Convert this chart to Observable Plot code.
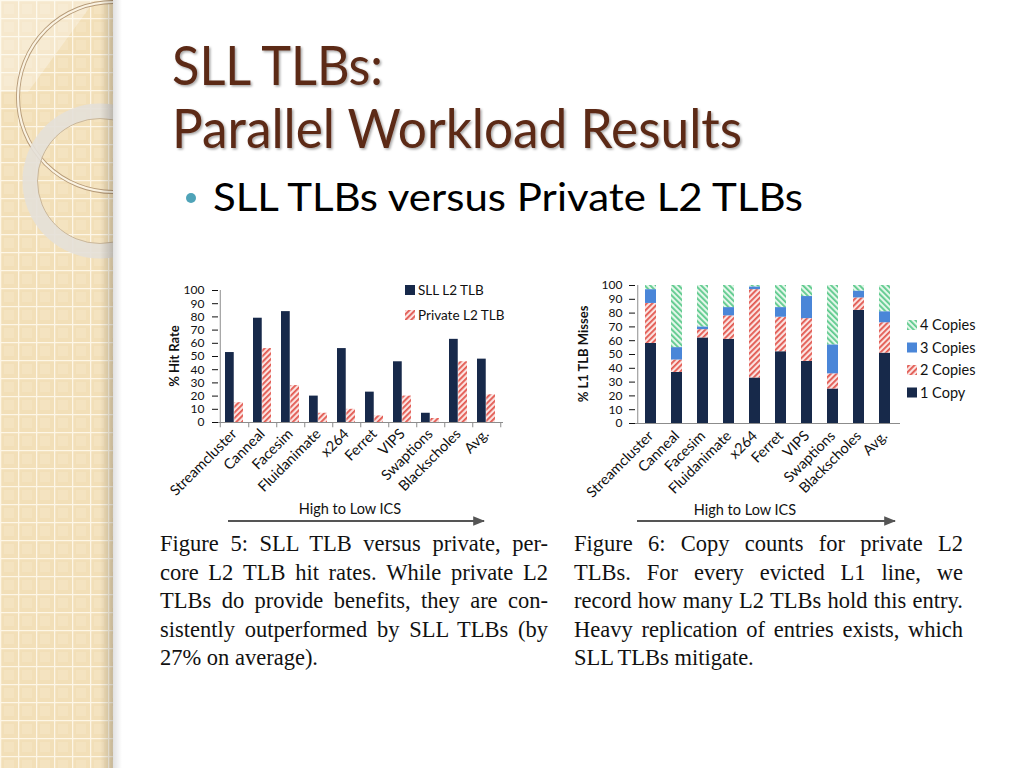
<!DOCTYPE html>
<html><head><meta charset="utf-8">
<script src="https://cdn.jsdelivr.net/npm/d3@7"></script>
<script src="https://cdn.jsdelivr.net/npm/@observablehq/plot@0.6"></script>
<style>
html,body{margin:0;padding:0}
body{width:1024px;height:768px;position:relative;overflow:hidden;background:#fff;font-family:Lato,"Open Sans",sans-serif}
.abs{position:absolute;left:0;top:0}
#c1{position:absolute;left:150px;top:275px}
#c2{position:absolute;left:560px;top:270px}
#c1 g[aria-label^="x-axis"] text, #c2 g[aria-label^="x-axis"] text{font-size:14.5px}
#c1 g[aria-label^="y-axis"] text, #c2 g[aria-label^="y-axis"] text{font-size:12px}
</style></head><body>
<svg class="abs" width="0" height="0" style="position:absolute">
  <defs>
    <pattern id="hatchRed" width="4" height="4" patternUnits="userSpaceOnUse" patternTransform="rotate(45)">
      <rect width="4" height="4" fill="#fbe3e1"/>
      <rect width="1.8" height="4" fill="#e2574f"/>
    </pattern>
    <pattern id="hatchGreen" width="4" height="4" patternUnits="userSpaceOnUse" patternTransform="rotate(-45)">
      <rect width="4" height="4" fill="#e4f7ea"/>
      <rect width="1.8" height="4" fill="#5cc98c"/>
    </pattern>
  </defs>
</svg>

<!-- decorative side strip -->
<svg class="abs" width="124" height="768">
  <defs>
    <pattern id="grid" width="18" height="18" patternUnits="userSpaceOnUse">
      <rect width="18" height="18" fill="#f2dfb8"/>
      <rect x="4" y="4" width="10" height="10" fill="#f4e3c0"/>
      <path d="M0 0.5H18M0.5 0V18" stroke="#fdf6e6" stroke-width="1.6"/>
    </pattern>
    <linearGradient id="edge" x1="0" x2="1">
      <stop offset="0" stop-color="#000" stop-opacity="0"/>
      <stop offset="1" stop-color="#000" stop-opacity="0.18"/>
    </linearGradient>
    <linearGradient id="edge2" x1="0" x2="1">
      <stop offset="0" stop-color="#000" stop-opacity="0.12"/>
      <stop offset="1" stop-color="#000" stop-opacity="0"/>
    </linearGradient>
    <clipPath id="stripClip"><rect width="113" height="768"/></clipPath>
  </defs>
  <rect width="113" height="768" fill="url(#grid)"/>
  <g clip-path="url(#stripClip)">
    <path d="M0 0H95L28 92H0Z" fill="#fff" opacity="0.3"/>
    <circle cx="113" cy="97" r="95" fill="none" stroke="#b59a78" stroke-width="4"/>
    <circle cx="113" cy="97" r="95" fill="none" stroke="#fbf3e2" stroke-width="2.2"/>
    <circle cx="100" cy="181" r="70" fill="none" stroke="#e4e0d8" stroke-width="15" opacity="0.9"/>
    <circle cx="100" cy="181" r="62.5" fill="none" stroke="#c9b79c" stroke-width="1"/>
  </g>
  <rect x="100" width="13" height="768" fill="url(#edge)"/>
  <rect x="113" width="9" height="768" fill="url(#edge2)"/>
</svg>

<!-- slide texts -->
<svg class="abs" width="1024" height="768" id="overlay" style="font-family:Lato,sans-serif">
  <defs>
    <filter id="tshadow" x="-5%" y="-20%" width="110%" height="140%">
      <feDropShadow dx="1.5" dy="1.5" stdDeviation="1.2" flood-color="#000" flood-opacity="0.35"/>
    </filter>
    <marker id="arrow" viewBox="0 0 10 10" refX="9" refY="5" markerWidth="6" markerHeight="6" orient="auto">
      <path d="M0 1L10 5L0 9Z" fill="#555"/>
    </marker>
  </defs>
  <g fill="#5b2a18" font-size="54" filter="url(#tshadow)">
    <text x="172" y="85" textLength="211" lengthAdjust="spacingAndGlyphs">SLL TLBs:</text>
    <text x="172" y="148" textLength="570" lengthAdjust="spacingAndGlyphs">Parallel Workload Results</text>
  </g>
  <circle cx="191" cy="198" r="5" fill="#4fa3b8"/>
  <text x="213" y="211" font-size="38" fill="#000" textLength="590" lengthAdjust="spacingAndGlyphs">SLL TLBs versus Private L2 TLBs</text>

  <!-- axis direction notes -->
  <text x="350" y="514" font-size="14.5" text-anchor="middle" fill="#111">High to Low ICS</text>
  <line x1="228" y1="521" x2="484" y2="521" stroke="#555" stroke-width="2" marker-end="url(#arrow)"/>
  <text x="745" y="515" font-size="14.5" text-anchor="middle" fill="#111">High to Low ICS</text>
  <line x1="637" y1="521" x2="895" y2="521" stroke="#555" stroke-width="2" marker-end="url(#arrow)"/>

  <!-- legends -->
  <g font-size="13.5" fill="#111">
    <rect x="405" y="285" width="10" height="10" fill="#17294a"/>
    <text x="418" y="295">SLL L2 TLB</text>
    <rect x="405" y="310" width="10" height="10" fill="url(#hatchRed)"/>
    <text x="418" y="320">Private L2 TLB</text>
  </g>
  <g font-size="14.5" fill="#111" id="leg2"></g>

  <!-- captions -->
  <g font-family="'Liberation Serif','Times New Roman',serif" font-size="22.5" fill="#111" id="caps"></g>
</svg>

<div id="c1"></div>
<div id="c2"></div>

<script>
// ---------- data ----------
const categories = ["Streamcluster","Canneal","Facesim","Fluidanimate","x264","Ferret","VIPS","Swaptions","Blackscholes","Avg."];
const hitSeries = ["SLL L2 TLB","Private L2 TLB"];
const sllHit     = [53,79,84,20,56,23,46,7,63,48];
const privateHit = [15,56,28,7,10,5,20,3,46,21];

const copySeries = ["1 Copy","2 Copies","3 Copies","4 Copies"];
const copy1 = [58,37,62,61,33,52,45,25,82,51];
const copy2 = [29,9,6,17,64,25,31,11,9,22];
const copy3 = [10,9,2,6,2,7,16,21,5,8];
const copy4 = [3,45,30,16,1,16,8,43,4,19];

const yTicks = [0,10,20,30,40,50,60,70,80,90,100];

const caption5 = ["Figure 5: SLL TLB versus private, per-","core L2 TLB hit rates. While private L2","TLBs do provide benefits, they are con-","sistently outperformed by SLL TLBs (by","27% on average)."];
const caption6 = ["Figure 6: Copy counts for private L2","TLBs. For every evicted L1 line, we","record how many L2 TLBs hold this entry.","Heavy replication of entries exists, which","SLL TLBs mitigate."];

// ---------- styles ----------
const navy = "#17294a";
const blue = "#4a86d8";
const axisGray = "#8c8c8c";

// ---------- chart 1 ----------
const hitRows = categories.flatMap((c,i)=>[
  {cat:c, series:hitSeries[0], v:sllHit[i]},
  {cat:c, series:hitSeries[1], v:privateHit[i]}
]);
const w1 = 380, ml1 = 68, mr1 = 27;
const pad1 = 0.35;
const step1 = (w1-ml1-mr1)/categories.length;
const bw1 = step1*(1-pad1);

const chart1 = Plot.plot({
  width: w1, height: 235, marginTop: 15, marginLeft: ml1, marginRight: mr1, marginBottom: 88,
  style: {fontFamily:"Lato, sans-serif", fontSize:"13px", color:"#111", background:"transparent", overflow:"visible"},
  x: {domain: categories, paddingInner: pad1, paddingOuter: pad1/2, label: null, tickRotate: -45, tickSize: 0, tickPadding: 9},
  y: {domain: [0,100], ticks: yTicks, label: null, tickSize: 6, tickPadding: 8},
  marks: [
    Plot.barY(hitRows.filter(d=>d.series===hitSeries[0]), {x:"cat", y:"v", fill: navy, insetRight: bw1/2}),
    Plot.barY(hitRows.filter(d=>d.series===hitSeries[1]), {x:"cat", y:"v", fill: "url(#hatchRed)", insetLeft: bw1/2}),
    Plot.ruleX(categories, {x: d=>d, dx: step1/2, y1: 0, y2: -4, stroke: axisGray}),
    Plot.ruleX([categories[0]], {x: d=>d, dx: -step1/2, y1: -4, y2: 100, stroke: axisGray}),
    Plot.ruleY([0], {stroke: axisGray})
  ]
});
document.getElementById("c1").append(chart1);

// ---------- chart 2 ----------
const copyVals = [copy1,copy2,copy3,copy4];
const copyRows = copySeries.flatMap((s,j)=>categories.map((c,i)=>({cat:c, series:s, v:copyVals[j][i]})));
const w2 = 360, ml2 = 75, mr2 = 20;
const pad2 = 0.585;
const step2 = (w2-ml2-mr2)/categories.length;

const chart2 = Plot.plot({
  width: w2, height: 245, marginTop: 15, marginLeft: ml2, marginRight: mr2, marginBottom: 92,
  style: {fontFamily:"Lato, sans-serif", fontSize:"13px", color:"#111", background:"transparent", overflow:"visible"},
  x: {domain: categories, paddingInner: pad2, paddingOuter: pad2/2, label: null, tickRotate: -45, tickSize: 0, tickPadding: 10},
  y: {domain: [0,100], ticks: yTicks, label: null, tickSize: 6, tickPadding: 7},
  color: {domain: copySeries, range: [navy, "url(#hatchRed)", blue, "url(#hatchGreen)"]},
  marks: [
    Plot.barY(copyRows, {x:"cat", y:"v", fill:"series"}),
    Plot.ruleX([categories[0]], {x: d=>d, dx: -step2/2, y1: 0, y2: 100, stroke: axisGray}),
    Plot.ruleY([0], {stroke: axisGray})
  ]
});
document.getElementById("c2").append(chart2);

// ---------- y labels (rotated) ----------
const ov = d3.select("#overlay");
ov.append("text").attr("transform","translate(179,356) rotate(-90)").attr("text-anchor","middle")
  .attr("font-size",13).attr("font-weight","bold").attr("fill","#111").text("% Hit Rate");
ov.append("text").attr("transform","translate(588,354) rotate(-90)").attr("text-anchor","middle")
  .attr("font-size",13).attr("font-weight","bold").attr("fill","#111").text("% L1 TLB Misses");

// ---------- legend 2 ----------
const legOrder = copySeries.slice().reverse();
const legFill = {"1 Copy":navy,"2 Copies":"url(#hatchRed)","3 Copies":blue,"4 Copies":"url(#hatchGreen)"};
const lg = d3.select("#leg2");
legOrder.forEach((s,k)=>{
  const yc = 325 + k*22.5;
  lg.append("rect").attr("x",907).attr("y",yc-5).attr("width",10).attr("height",10).attr("fill",legFill[s]);
  lg.append("text").attr("x",920).attr("y",yc+5).text(s);
});

// ---------- captions (justified by word spacing) ----------
const cg = d3.select("#caps");
function caption(lines, x, w){
  lines.forEach((t,k)=>{
    const y = 551 + k*28.6;
    const words = t.split(" ");
    const el = cg.append("text").attr("y", y);
    const spans = words.map(wd => el.append("tspan").text(wd));
    const widths = spans.map(s => s.node().getComputedTextLength());
    const sum = d3.sum(widths);
    const last = k === lines.length-1;
    const natGap = 5.6;
    let gap = last ? natGap : (w - sum)/(words.length-1);
    let scale = 1;
    if (gap < 3) { gap = 3; scale = (w - gap*(words.length-1))/sum; }
    let cx = x;
    spans.forEach((s,i)=>{
      s.attr("x", cx);
      if (scale !== 1) s.attr("textLength", widths[i]*scale).attr("lengthAdjust","spacingAndGlyphs");
      cx += widths[i]*scale + gap;
    });
  });
}
caption(caption5, 160, 388);
caption(caption6, 574, 389);
</script>
</body></html>
